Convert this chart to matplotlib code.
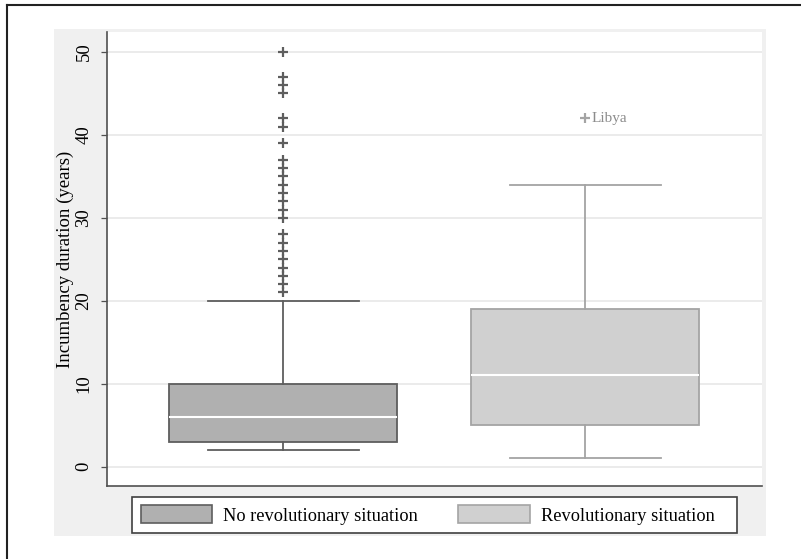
import numpy as np
import matplotlib
matplotlib.use("Agg")
import matplotlib.pyplot as plt
from matplotlib.patches import Patch, Rectangle
from matplotlib.lines import Line2D

plt.rcParams['font.family'] = ['Liberation Serif', 'DejaVu Serif']

groups = ["No revolutionary situation", "Revolutionary situation"]
whislo = [2, 1]
q1 = [3, 5]
med = [6, 11]
q3 = [10, 19]
whishi = [20, 34]
fliers = [
    [21, 22, 23, 24, 25, 26, 27, 28, 30, 31, 32, 33, 34, 35, 36, 37, 39, 41, 42, 45, 46, 47, 50],
    [42],
]
flier_names = [None, "Libya"]

fills = ["#b0b0b0", "#d0d0d0"]
edges = ["#5e5e5e", "#a4a4a4"]

W, H = 801, 559
fig = plt.figure(figsize=(W / 100, H / 100), dpi=100)
fig.patch.set_facecolor("white")

# stata-ish graph region
fig.patches.append(Rectangle((54 / W, 23 / H), (766 - 54) / W, (530 - 23) / H,
                             transform=fig.transFigure, facecolor="#f0f0f0",
                             edgecolor="none", zorder=-5))
# outer border lines
fig.add_artist(Line2D([7 / W, 1], [1 - 5 / H, 1 - 5 / H], color="#222222", lw=1.5))
fig.add_artist(Line2D([7 / W, 7 / W], [0, 1 - 5 / H], color="#222222", lw=1.5))

ax = fig.add_axes([107 / W, (559 - 486) / H, (762 - 107) / W, (486 - 32) / H])
ax.set_facecolor("white")

stats = []
for i in range(2):
    stats.append(dict(med=med[i], q1=q1[i], q3=q3[i], whislo=whislo[i],
                      whishi=whishi[i], fliers=fliers[i]))

for i in range(2):
    ax.bxp([stats[i]], positions=[i + 1], widths=0.755, patch_artist=True,
           showcaps=True,
           boxprops=dict(facecolor=fills[i], edgecolor=edges[i], linewidth=1.3),
           medianprops=dict(color="white", linewidth=1.5),
           whiskerprops=dict(color=edges[i], linewidth=1.3),
           capprops=dict(color=edges[i], linewidth=1.3),
           capwidths=0.5,
           flierprops=dict(marker="+", markersize=6.5, markeredgecolor=edges[i],
                           markeredgewidth=1.6, linestyle="none"))
    if flier_names[i]:
        for v in fliers[i]:
            ax.annotate(flier_names[i], (i + 1, v), xytext=(5, 0),
                        textcoords="offset points", va="center", ha="left",
                        fontsize=11, color="#8c8c8c")

ax.set_xlim(0.417, 2.586)
ax.set_ylim(-2.33, 52.4)
ax.set_yticks([0, 10, 20, 30, 40, 50])
ax.yaxis.grid(True, color="#e8e8e8", linewidth=1.2)
ax.set_axisbelow(True)
ax.set_xticks([])
ax.tick_params(axis="y", labelrotation=90, length=4.5, width=0.9,
               color="#505050", labelsize=13.5, pad=6)
for lab in ax.get_yticklabels():
    lab.set_va("center")
ax.set_ylabel("Incumbency duration (years)", fontsize=13.5, labelpad=1)
for s in ["top", "right"]:
    ax.spines[s].set_visible(False)
for s in ["left", "bottom"]:
    ax.spines[s].set_color("#505050")
    ax.spines[s].set_linewidth(1.2)

# legend frame drawn separately to match the reference box
fig.patches.append(Rectangle((132 / W, (559 - 533) / H), (737 - 132) / W, 36 / H,
                             transform=fig.transFigure, facecolor="white",
                             edgecolor="#404040", linewidth=1.2, zorder=1))
handles = [Patch(facecolor=fills[i], edgecolor=edges[i], linewidth=1.2) for i in range(2)]
leg = fig.legend(handles, groups, loc="center",
                 bbox_to_anchor=((132 + 737) / 2 / W - 7 / W, (559 - 515) / H),
                 ncol=2, fontsize=13.2, frameon=False,
                 handlelength=3.9, handleheight=1.1, handletextpad=0.6,
                 columnspacing=2.2, borderpad=0.4, borderaxespad=0)
leg.set_zorder(2)

fig.savefig("out.png", dpi=100)
